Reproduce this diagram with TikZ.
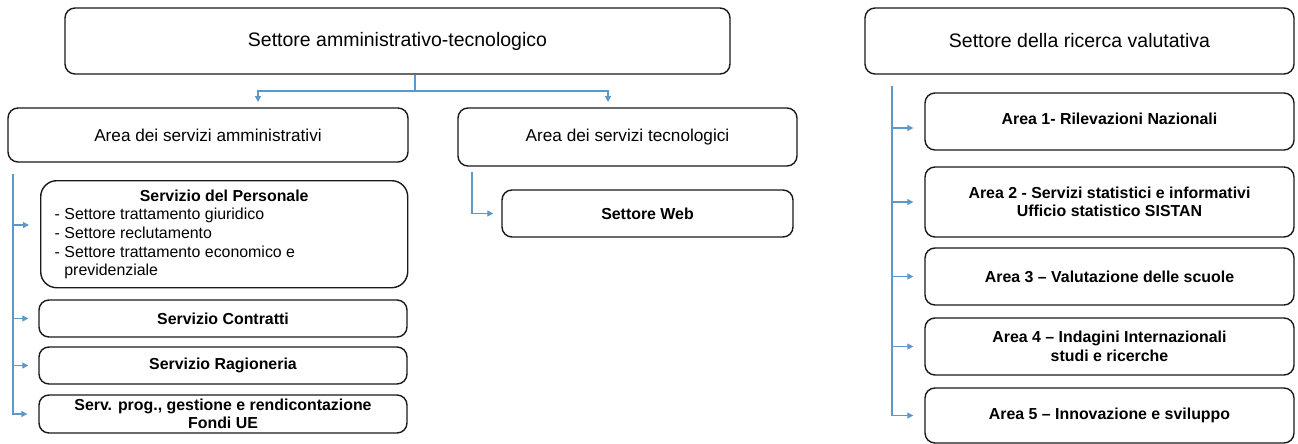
\documentclass[tikz,border=0pt]{standalone}
\usepackage{fontspec}
\setmainfont{Liberation Sans}
\usetikzlibrary{arrows.meta}
\definecolor{conncol}{RGB}{92,152,204}
\definecolor{edgecol}{RGB}{25,25,25}
\tikzset{
  box/.style={draw=edgecol, line width=1.4pt, rounded corners=10pt, inner sep=0pt, align=center},
  titlebox/.style={box, font=\fontsize{19.5}{23}\selectfont},
  areabox/.style={box, font=\fontsize{17.2}{20}\selectfont},
  itembox/.style={box, font=\bfseries\fontsize{15.9}{18.6}\selectfont},
  conn/.style={draw=conncol, line width=1.2pt},
  arr/.style={conn, -{Triangle[length=6pt,width=6pt]}},
}
\begin{document}
\begin{tikzpicture}[x=1pt,y=-1pt]
\useasboundingbox (0,0) rectangle (1298,444);

% left sector
\node[titlebox, minimum width=665pt, minimum height=66pt] (A) at (397.5,41) {Settore amministrativo-tecnologico};
\node[areabox, minimum width=400pt, minimum height=54pt] (L) at (208,135) {Area dei servizi amministrativi};
\node[areabox, minimum width=339pt, minimum height=58pt] (T) at (627.5,137) {Area dei servizi tecnologici};
\node[itembox, minimum width=291pt, minimum height=47pt] (W) at (647.5,213.5) {Settore Web};

\node[itembox, rounded corners=16pt, minimum width=367pt, minimum height=107pt, anchor=north west] (P) at (40,180) {%
\begin{minipage}[t][107pt][t]{367pt}\raggedright
\vspace*{9pt}
{\centering Servizio del Personale\par}
\mdseries\leftskip=14pt
\noindent - Settore trattamento giuridico\\
- Settore reclutamento\\
- Settore trattamento economico e\\
\hspace*{9.7pt}previdenziale\par
\end{minipage}};
\node[itembox, minimum width=368pt, minimum height=37pt] (C) at (223,318.5) {Servizio Contratti};
\node[itembox, minimum width=368pt, minimum height=37pt] (R) at (223,365.5) {Servizio Ragioneria};
\node[itembox, minimum width=368pt, minimum height=38pt] (S) at (223,414) {Serv. prog., gestione e rendicontazione\\Fondi UE};

% right sector
\node[titlebox, minimum width=429pt, minimum height=66pt] (B) at (1079.5,41) {Settore della ricerca valutativa};
\node[itembox, minimum width=369pt, minimum height=57pt] (A1) at (1109.5,121.5) {\raisebox{6pt}{Area 1- Rilevazioni Nazionali}};
\node[itembox, minimum width=369pt, minimum height=70pt] (A2) at (1109.5,202) {Area 2 - Servizi statistici e informativi\\Ufficio statistico SISTAN};
\node[itembox, minimum width=369pt, minimum height=57pt] (A3) at (1109.5,276.5) {Area 3 -- Valutazione delle scuole};
\node[itembox, minimum width=369pt, minimum height=57pt] (A4) at (1109.5,346.5) {Area 4 -- Indagini Internazionali\\studi e ricerche};
\node[itembox, minimum width=369pt, minimum height=55pt] (A5) at (1109.5,415.5) {Area 5 -- Innovazione e sviluppo};

% connectors top
\coordinate (tick) at (415,91);
\coordinate (aL) at (258,102);
\coordinate (aT) at (608,102);
\draw[conn] (tick |- A.south) -- (tick);
\draw[arr] (tick) -| (aL);
\draw[arr] (tick) -| (aT);

% left branch
\coordinate (lv) at (13,174);
\coordinate (l1) at (13,225);
\draw[arr, shorten >=11pt] (lv) |- (S.west);
\draw[arr, shorten >=11pt] (l1) -- (l1 -| P.west);
\draw[arr, shorten >=10pt] (C.west -| lv) -- (C.west);
\draw[arr, shorten >=10pt] (R.west -| lv) -- (R.west);

% tech branch
\coordinate (tv) at (472,172);
\draw[arr, shorten >=8pt] (tv) |- (W.west);

% right branch
\coordinate (rv) at (892,86);
\coordinate (r1) at (892,128);
\draw[arr, shorten >=11pt] (rv) |- (A5.west);
\draw[arr, shorten >=11pt] (r1) -- (r1 -| A1.west);
\draw[arr, shorten >=11pt] (A2.west -| rv) -- (A2.west);
\draw[arr, shorten >=11pt] (A3.west -| rv) -- (A3.west);
\draw[arr, shorten >=11pt] (A4.west -| rv) -- (A4.west);
\end{tikzpicture}
\end{document}
